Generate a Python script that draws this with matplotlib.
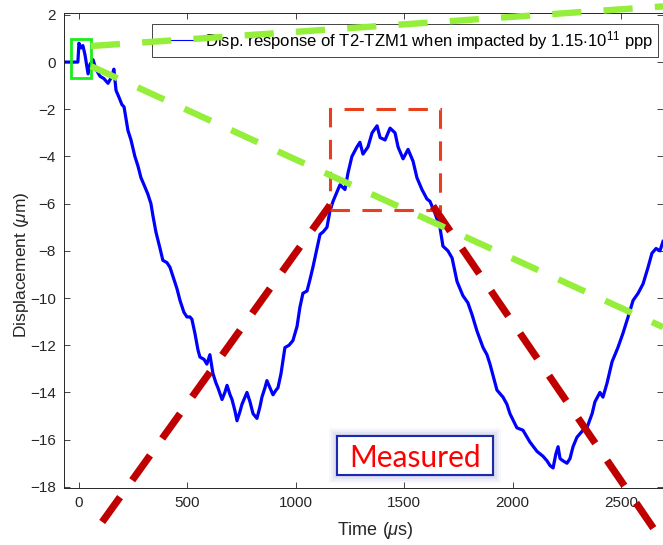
import matplotlib.pyplot as plt
from matplotlib.patches import Rectangle
from matplotlib.lines import Line2D

plt.rcParams['font.family'] = ['Liberation Sans', 'DejaVu Sans']
plt.rcParams['mathtext.fontset'] = 'custom'
plt.rcParams['mathtext.rm'] = 'Liberation Sans'
plt.rcParams['mathtext.it'] = 'Liberation Sans:italic'
plt.rcParams['lines.scale_dashes'] = False

# measured displacement
time_us = [-69, -5, 0, 9, 18, 28, 42, 51, 65, 78, 97, 115, 134, 152, 161, 171, 185, 198, 208,
           226, 240, 258, 272, 286, 300, 318, 332, 341, 355, 374, 387, 406, 420, 434, 452, 466,
           484, 498, 512, 521, 535, 549, 558, 577, 590, 604, 618, 632, 641, 660, 673, 683, 697,
           706, 720, 729, 743, 752, 766, 775, 789, 803, 821, 835, 844, 858, 867, 881, 895, 909,
           918, 932, 950, 969, 987, 1006, 1019, 1033, 1052, 1066, 1079, 1098, 1112, 1126, 1144,
           1158, 1172, 1181, 1204, 1227, 1241, 1259, 1282, 1296, 1310, 1333, 1352, 1375, 1389,
           1412, 1435, 1458, 1472, 1495, 1518, 1541, 1559, 1582, 1605, 1619, 1642, 1665, 1679,
           1702, 1721, 1744, 1771, 1794, 1813, 1836, 1864, 1882, 1896, 1928, 1956, 1974, 1988,
           2020, 2048, 2080, 2113, 2140, 2159, 2173, 2187, 2200, 2210, 2219, 2233, 2251, 2265,
           2279, 2297, 2325, 2343, 2367, 2380, 2403, 2417, 2436, 2459, 2486, 2509, 2533, 2556,
           2579, 2602, 2625, 2643, 2662, 2680, 2694]
disp_um = [0.0, 0.0, 0.8, 0.6, 0.7, 0.3, -0.5, -0.1, 0.1, -0.3, -0.6, -0.7, -0.9, -0.6, -0.3,
           -1.2, -1.5, -1.8, -1.9, -2.9, -3.3, -4.0, -4.4, -4.9, -5.2, -5.6, -6.0, -6.5, -7.2,
           -7.9, -8.4, -8.5, -8.7, -9.1, -9.6, -10.1, -10.6, -10.8, -10.8, -10.9, -11.5, -12.2,
           -12.5, -12.6, -12.8, -12.4, -13.2, -13.6, -13.8, -14.3, -14.0, -13.7, -14.1, -14.3,
           -14.8, -15.2, -14.8, -14.5, -14.2, -14.0, -14.4, -14.9, -15.1, -14.6, -14.2, -13.8,
           -13.5, -13.8, -14.1, -13.9, -13.8, -13.2, -12.1, -12.0, -11.8, -11.2, -10.4, -9.8,
           -9.7, -9.2, -8.7, -7.9, -7.3, -7.2, -7.0, -6.3, -5.9, -5.7, -5.2, -5.4, -4.7, -4.0,
           -3.6, -3.4, -3.9, -3.6, -3.0, -2.7, -3.2, -3.3, -2.8, -3.0, -3.6, -4.1, -3.7, -4.2,
           -4.9, -5.4, -5.8, -5.9, -6.4, -7.0, -7.8, -8.0, -8.3, -9.3, -9.9, -10.2, -10.7,
           -11.4, -12.1, -12.4, -12.8, -13.9, -14.2, -14.5, -14.9, -15.5, -15.6, -16.1, -16.5,
           -16.7, -16.9, -17.1, -17.2, -16.6, -16.3, -16.8, -16.9, -17.0, -16.8, -16.3, -15.9,
           -15.6, -15.5, -14.9, -14.4, -14.0, -14.2, -13.6, -12.7, -12.1, -11.5, -10.8, -10.1,
           -9.8, -9.4, -8.7, -8.1, -7.9, -8.0, -7.6]

legend_label = r'Disp. response of T2-TZM1 when impacted by 1.15$\cdot$10$^{11}$ ppp'

# annotation overlays (data units)
start_box_t = [-38, 57]
start_box_y = [-0.67, 0.96]
zoom_box_t = [1158, 1665]
zoom_box_y = [-6.27, -2.0]
green_hi_t = [55, 2694]
green_hi_y = [0.68, 2.36]
green_lo_t = [55, 2694]
green_lo_y = [-0.17, -11.23]
red_left_t = [1158, 97]
red_left_y = [-6.06, -19.62]
red_right_t = [1633, 2671]
red_right_y = [-6.1, -20.04]
tag_t = [1190, 1910]
tag_y = [-17.5, -15.83]
tag_text = 'Measured'

fig = plt.figure(figsize=(6.63, 5.45), dpi=100)
ax = fig.add_axes([64 / 663, 1 - 488 / 545, 599 / 663, 475 / 545])

ax.plot(time_us, disp_um, color='#0000ff', lw=2.3, zorder=2)

ax.set_xlim(-69, 2694)
ax.set_ylim(-18.05, 2.08)
ax.set_xticks([0, 500, 1000, 1500, 2000, 2500])
ax.set_yticks(range(-18, 3, 2))
ax.tick_params(direction='in', top=True, right=True, length=4, width=0.6,
               colors='#262626', labelsize=11, pad=6)
for s in ax.spines.values():
    s.set_color('#262626')
    s.set_linewidth(0.7)
ax.set_xlabel(r'Time ($\mu$s)', fontsize=13, color='#262626')
ax.set_ylabel(r'Displacement ($\mu$m)', fontsize=12.5, color='#262626')
ax.xaxis.set_label_coords(0.52, -0.09)
ax.xaxis.label.set_va('center')
ax.yaxis.set_label_coords(-0.071, 0.47)
ax.yaxis.label.set_va('center')

handle = Line2D([], [], color='#0000ff', lw=0.8)
leg = ax.legend([handle], [legend_label], loc='upper right', bbox_to_anchor=(0.992, 0.977),
                borderaxespad=0, fancybox=False, framealpha=1, edgecolor='#262626',
                fontsize=12, handlelength=2.5, handletextpad=0.4, borderpad=0.3)
leg.get_frame().set_linewidth(0.6)
leg.set_zorder(5)

# zoom box around the peak
ax.add_patch(Rectangle((zoom_box_t[0], zoom_box_y[0]), zoom_box_t[1] - zoom_box_t[0],
                       zoom_box_y[1] - zoom_box_y[0], fill=False, ec='#e8401c', lw=2.2,
                       ls=(0, (14, 9)), zorder=4, clip_on=False))
# box at impact
ax.add_patch(Rectangle((start_box_t[0], start_box_y[0]), start_box_t[1] - start_box_t[0],
                       start_box_y[1] - start_box_y[0], fill=False, ec='#1aee1a', lw=2.0,
                       zorder=4, clip_on=False))

ax.plot(red_left_t, red_left_y, color='#c00000', lw=5.2, ls=(0, (22, 15)),
        solid_capstyle='butt', zorder=6, clip_on=False)
ax.plot(red_right_t, red_right_y, color='#c00000', lw=5.2, ls=(0, (22, 15)),
        solid_capstyle='butt', zorder=6, clip_on=False)
ax.plot(green_hi_t, green_hi_y, color='#95ee3a', lw=4.6, ls=(0, (21, 16)),
        zorder=7, clip_on=False)
ax.plot(green_lo_t, green_lo_y, color='#95ee3a', lw=4.6, ls=(0, (21, 16)),
        zorder=7, clip_on=False)

# "Measured" tag with soft glow
w = tag_t[1] - tag_t[0]
h = tag_y[1] - tag_y[0]
for k, a in [(4, 0.08), (3, 0.12), (2, 0.18), (1, 0.25)]:
    dx = k * 9.0
    dy = k * 0.085
    ax.add_patch(Rectangle((tag_t[0] - dx, tag_y[0] - dy), w + 2 * dx, h + 2 * dy,
                           fc='#aab0d8', ec='none', alpha=a, zorder=7, clip_on=False))
ax.add_patch(Rectangle((tag_t[0], tag_y[0]), w, h, fc='white', ec='#1a2ab0', lw=1.5,
                       zorder=8, clip_on=False))
ax.text(sum(tag_t) / 2, sum(tag_y) / 2, tag_text, color='#ff0000', fontsize=21.5,
        family=['Lato', 'DejaVu Sans'], ha='center', va='center_baseline', zorder=9)

fig.savefig('out.png', dpi=100)
